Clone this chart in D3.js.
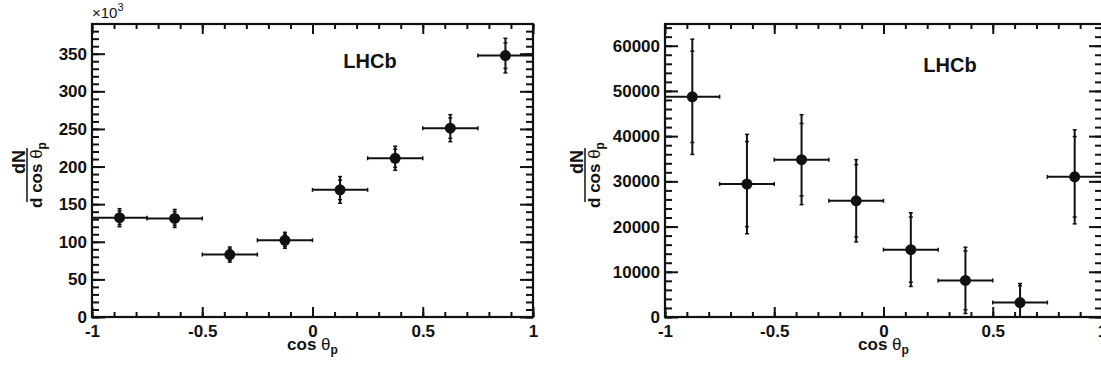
<!DOCTYPE html>
<html lang="en">
<head>
    <meta charset="utf-8">
    <title>LHCb cos theta_p</title>
    <style>
        body { margin: 0; background: #fff; }
        svg { display: block; }
        text { font-family: "Liberation Sans", Arial, sans-serif; fill: #111; }
        .tick text { font-size: 17px; font-weight: bold; }
        .axis path, .axis line { stroke: #111; stroke-width: 2px; }
        .frame { fill: none; stroke: #111; stroke-width: 2.2px; }
        .err { stroke: #111; stroke-width: 2px; fill: none; }
    </style>
</head>
<body>
<script src="https://cdn.jsdelivr.net/npm/d3@7"></script>
<script>

    // bins in cos theta_p (centres), half width 0.25/2
    var binCenters = [-0.875, -0.625, -0.375, -0.125, 0.125, 0.375, 0.625, 0.875];
    var binHalf = 0.125;

    // left panel, in units of 10^3
    var leftValues  = [132, 131, 83, 102, 169, 211, 251, 347.5];
    var leftTotErr  = [12, 12, 10, 10.6, 17.7, 16, 18, 23];
    var leftStatErr = [9, 9, 7.5, 8, 13, 12, 13.5, 17];

    // right panel
    var rightValues  = [48700, 29400, 34800, 25700, 14900, 8100, 3200, 31000];
    var rightTotErr  = [12750, 11000, 9950, 9100, 8150, 7330, 4200, 10400];
    var rightStatErr = [10100, 9400, 8000, 8000, 7200, 6500, 3700, 8900];

    var xTicks = [-1, -0.5, 0, 0.5, 1];
    var leftYTicks = [0, 50, 100, 150, 200, 250, 300, 350];
    var rightYTicks = [0, 10000, 20000, 30000, 40000, 50000, 60000];

    var W = 1101, H = 372;
    var svg = d3.select("body").append("svg")
            .attr("width", W)
            .attr("height", H);

    var panels = [
        {x0: 92, x1: 533, ymax: 389.5, yMinor: 10, yTicks: leftYTicks,
         vals: leftValues, tot: leftTotErr, stat: leftStatErr,
         labelX: 27, lhcbX: 370, lhcbY: 68, exp: true},
        {x0: 665, x1: 1102, ymax: 64800, yMinor: 2000, yTicks: rightYTicks,
         vals: rightValues, tot: rightTotErr, stat: rightStatErr,
         labelX: 585, lhcbX: 950, lhcbY: 72, exp: false}
    ];
    var plotTop = 24, plotBottom = 317;

    panels.forEach(function(p, idx) {
        var x = d3.scaleLinear().domain([-1, 1]).range([p.x0, p.x1]);
        var y = d3.scaleLinear().domain([0, p.ymax]).range([plotBottom, plotTop]);

        var xMinor = d3.range(-10, 11).map(function(i) { return i / 10; });
        var yMinor = d3.range(0, p.ymax, p.yMinor);

        var g = svg.append("g");

        // minor ticks
        g.append("g").attr("class", "axis").attr("transform", "translate(0," + plotBottom + ")")
            .call(d3.axisBottom(x).tickValues(xMinor).tickSize(-5).tickSizeOuter(0).tickFormat(""));
        g.append("g").attr("class", "axis").attr("transform", "translate(0," + plotTop + ")")
            .call(d3.axisTop(x).tickValues(xMinor).tickSize(-5).tickSizeOuter(0).tickFormat(""));
        g.append("g").attr("class", "axis").attr("transform", "translate(" + p.x0 + ",0)")
            .call(d3.axisLeft(y).tickValues(yMinor).tickSize(-7).tickSizeOuter(0).tickFormat(""));
        g.append("g").attr("class", "axis").attr("transform", "translate(" + p.x1 + ",0)")
            .call(d3.axisRight(y).tickValues(yMinor).tickSize(-7).tickSizeOuter(0).tickFormat(""));

        // major ticks with labels
        g.append("g").attr("class", "axis").attr("transform", "translate(0," + plotBottom + ")")
            .call(d3.axisBottom(x).tickValues(xTicks).tickSize(-10).tickSizeOuter(0).tickPadding(8)
                .tickFormat(function(d) { return String(d); }));
        g.append("g").attr("class", "axis").attr("transform", "translate(0," + plotTop + ")")
            .call(d3.axisTop(x).tickValues(xTicks).tickSize(-10).tickSizeOuter(0).tickFormat(""));
        g.append("g").attr("class", "axis").attr("transform", "translate(" + p.x0 + ",0)")
            .call(d3.axisLeft(y).tickValues(p.yTicks).tickSize(-13).tickSizeOuter(0).tickPadding(5)
                .tickFormat(function(d) { return String(d); }));
        g.append("g").attr("class", "axis").attr("transform", "translate(" + p.x1 + ",0)")
            .call(d3.axisRight(y).tickValues(p.yTicks).tickSize(-13).tickSizeOuter(0).tickFormat(""));

        g.selectAll(".axis .domain").remove();

        g.append("rect").attr("class", "frame")
            .attr("x", p.x0).attr("y", plotTop)
            .attr("width", p.x1 - p.x0).attr("height", plotBottom - plotTop);

        // data
        var clipId = "clip" + idx;
        svg.append("clipPath").attr("id", clipId).append("rect")
            .attr("x", p.x0).attr("y", plotTop - 4).attr("width", p.x1 - p.x0 + 6).attr("height", plotBottom - plotTop + 4);
        var d = g.append("g").attr("clip-path", "url(#" + clipId + ")");

        binCenters.forEach(function(c, i) {
            var v = p.vals[i], cx = x(c), cy = y(v);
            // horizontal bin bar
            d.append("line").attr("class", "err")
                .attr("x1", x(c - binHalf)).attr("x2", x(c + binHalf)).attr("y1", cy).attr("y2", cy);
            [c - binHalf, c + binHalf].forEach(function(e) {
                d.append("line").attr("class", "err").style("stroke-width", 1.5)
                    .attr("x1", x(e)).attr("x2", x(e)).attr("y1", cy - 2).attr("y2", cy + 2);
            });
            // vertical total error
            d.append("line").attr("class", "err")
                .attr("x1", cx).attr("x2", cx).attr("y1", y(v - p.tot[i])).attr("y2", y(v + p.tot[i]));
            [v - p.tot[i], v + p.tot[i], v - p.stat[i], v + p.stat[i]].forEach(function(e) {
                d.append("line").attr("class", "err").style("stroke-width", 1.5)
                    .attr("x1", cx - 2).attr("x2", cx + 2).attr("y1", y(e)).attr("y2", y(e));
            });
            d.append("circle").attr("cx", cx).attr("cy", cy).attr("r", 5.5).style("fill", "#111");
        });

        // LHCb label
        g.append("text").attr("x", p.lhcbX).attr("y", p.lhcbY)
            .attr("text-anchor", "middle")
            .style("font-size", "20px").style("font-weight", "bold")
            .text("LHCb");

        // x title
        var xt = g.append("text")
            .attr("x", (p.x0 + p.x1) / 2).attr("y", 350)
            .attr("text-anchor", "middle")
            .style("font-size", "17px").style("font-weight", "bold");
        xt.append("tspan").text("cos ");
        xt.append("tspan").style("font-weight", "normal").text("θ");
        xt.append("tspan").attr("dy", 4).style("font-size", "12px").text("p");

        // y title: dN / d cos theta_p, rotated
        var yt = g.append("g")
            .attr("transform", "translate(" + p.labelX + ",175) rotate(-90)");
        yt.append("line").attr("x1", -27).attr("x2", 27).attr("y1", 0).attr("y2", 0)
            .style("stroke", "#111").style("stroke-width", 1.5);
        yt.append("text").attr("x", 25).attr("y", -2).attr("text-anchor", "end")
            .style("font-size", "18px").style("font-weight", "bold").text("dN");
        var den = yt.append("text").attr("x", 0).attr("y", 15).attr("text-anchor", "middle")
            .style("font-size", "17px").style("font-weight", "bold");
        den.append("tspan").text("d cos ");
        den.append("tspan").style("font-weight", "normal").text("θ");
        den.append("tspan").attr("dy", 4).style("font-size", "12px").text("p");

        if (p.exp) {
            var ex = g.append("text").attr("x", p.x0).attr("y", 18).style("font-size", "15px");
            ex.append("tspan").text("×10");
            ex.append("tspan").attr("dy", -7).style("font-size", "11px").text("3");
        }
    });

</script>
</body>
</html>
